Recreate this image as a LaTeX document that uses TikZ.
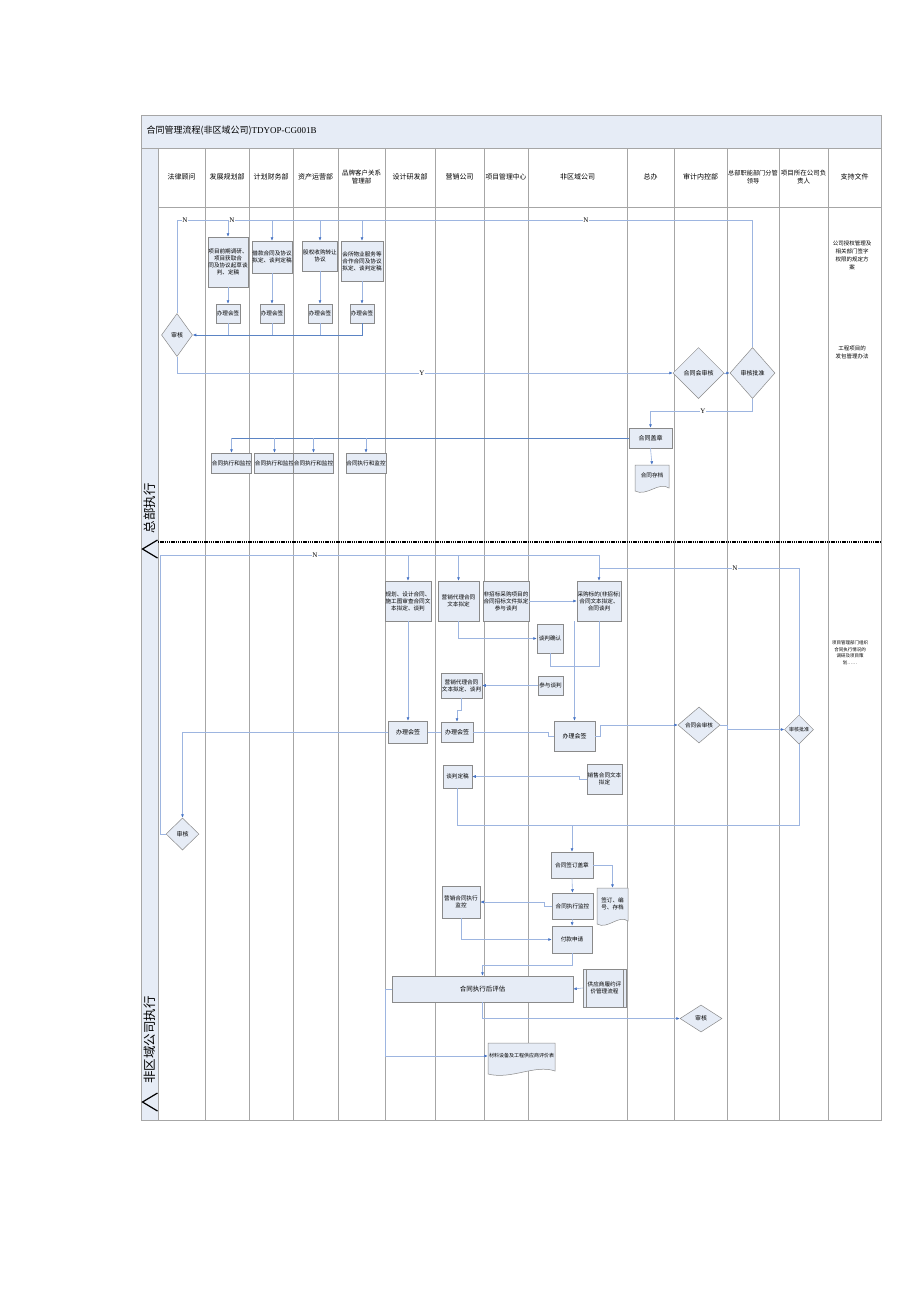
\documentclass[tikz,border=0pt]{standalone}
\usepackage{fontspec}
\setmainfont{Noto Sans CJK SC}
\newfontfamily\latfont{Liberation Serif}
\usetikzlibrary{shapes.geometric,arrows.meta}
\definecolor{boxfill}{HTML}{E6ECF6}
\definecolor{boxline}{HTML}{8A8A8A}
\definecolor{connc}{HTML}{9DB5E0}
\definecolor{conndark}{HTML}{5B84C4}
\definecolor{tipc}{HTML}{4472C4}
\definecolor{lanec}{HTML}{A6A6A6}
\definecolor{barc}{HTML}{E6ECF6}
\newcommand\docshape[6]{%
 \filldraw[draw=boxline, fill=boxfill, line width=0.5pt] (#2,#3) -- (#4,#3) -- (#4,{#5-4}) .. controls ({#4-0.3*(#4-#2)},{#5-11}) and ({#2+0.35*(#4-#2)},{#5+5}) .. (#2,{#5-1}) -- cycle;
 \node[inner sep=0pt, minimum width={(#4-#2)*1pt}, minimum height={(#5-#3-6)*1pt}, font=\fontsize{5.6}{7}\selectfont, align=center] (#1) at ({(#2+#4)/2},{(#3+#5-6)/2}) {#6};}
\begin{document}
\begin{tikzpicture}[x=1pt,y=-1pt,
 box/.style={draw=boxline, fill=boxfill, line width=0.5pt, inner sep=0.3pt, align=center, font=\fontsize{5.6}{7}\selectfont},
 dia/.style={diamond, draw=boxline, fill=boxfill, line width=0.5pt, inner sep=0pt, align=center, font=\fontsize{6}{7}\selectfont},
 cn/.style={draw=connc, line width=0.6pt},
 ar/.style={cn, -{Latex[length=3.5pt,width=3pt,color=tipc]}},
 lbl/.style={font=\latfont\fontsize{7}{7}\selectfont, fill=white, inner sep=0.4pt},
 hdr/.style={font=\fontsize{7}{8.5}\selectfont, align=center},
 suptxt/.style={align=center}]
\useasboundingbox (0,0) rectangle (920,1302);
\fill[white] (0,0) rectangle (920,1302);
% frame
\fill[barc] (141,148) rectangle (158,1120);
\filldraw[draw=lanec, fill=barc, line width=0.6pt] (141,115) rectangle (881,148);
\node[anchor=west, font=\fontsize{9}{9}\selectfont] (title) at (143,131) {合同管理流程(非区域公司){\latfont TDYOP-CG001B}};
\draw[lanec, line width=0.6pt] (141,148) rectangle (881,1120);
\draw[lanec, line width=0.6pt] (158,207) -- (881,207);
\foreach \x in {158,205,249,293,338,385,435,484,528,627,674,727,779,828}
  \draw[lanec, line width=0.6pt] (\x,148) -- (\x,1120);
% headers
\node[hdr] (h1) at (181.5,177) {法律顾问};
\node[hdr] (h2) at (227,177) {发展规划部};
\node[hdr] (h3) at (271,177) {计划财务部};
\node[hdr] (h4) at (315.5,177) {资产运营部};
\node[hdr, font=\fontsize{6.5}{8.5}\selectfont] (h5) at (361.5,177) {品牌客户关系\\管理部};
\node[hdr] (h6) at (410,177) {设计研发部};
\node[hdr] (h7) at (459.5,177) {营销公司};
\node[hdr, font=\fontsize{6.8}{8.5}\selectfont] (h8) at (506,177) {项目管理中心};
\node[hdr] (h9) at (577.5,177) {非区域公司};
\node[hdr] (h10) at (650.5,177) {总办};
\node[hdr] (h11) at (700.5,177) {审计内控部};
\node[hdr, font=\fontsize{6.2}{8.5}\selectfont] (h12) at (753,177) {总部职能部门分管\\领导};
\node[hdr, font=\fontsize{6.5}{8.5}\selectfont] (h13) at (803.5,177) {项目所在公司负\\责人};
\node[hdr] (h14) at (854.5,177) {支持文件};
% side labels
\node[rotate=90, font=\fontsize{12.5}{12.5}\selectfont] (sideA) at (149.5,508) {总部执行};
\node[rotate=90, font=\fontsize{12.5}{12.5}\selectfont] (sideB) at (149.5,1040) {非区域公司执行};
\draw[line width=1.2pt] (157.5,540) -- (142.5,549) -- (157.5,558);
\draw[line width=1.2pt] (157.5,1093) -- (142.5,1102) -- (157.5,1111);
\draw[line width=2.3pt, dash pattern=on 1.3pt off 0.9pt] (158,542) -- (881,542);
% support texts
\node[suptxt, font=\fontsize{5.5}{8}\selectfont] (sup1) at (852,255) {公司授权管理及\\相关部门签字\\权限的规定方\\案};
\node[suptxt, font=\fontsize{5.5}{8}\selectfont] (sup2) at (852,352) {工程项目的\\发包管理办法};
\node[suptxt, font=\fontsize{4.5}{6.5}\selectfont] (sup3) at (850,653) {项目管理部门组织\\合同执行情况的\\调研及项目策\\划……};
% ===== top section nodes
\node[box, minimum width=40pt, minimum height=50pt] (b1) at (228,262) {项目前期调研、\\项目获取合\\同及协议起草谈\\判、定稿};
\node[box, minimum width=39pt, minimum height=32pt] (b2) at (272,257) {借款合同及协议\\拟定、谈判定稿};
\node[box, minimum width=35pt, minimum height=30pt] (b3) at (320,256) {股权收购转让\\协议};
\node[box, minimum width=42pt, minimum height=40pt] (b4) at (362,261) {会所物业服务等\\合作合同及协议\\拟定、谈判定稿};
\node[box, minimum width=24pt, minimum height=19pt] (s1) at (228,313.5) {办理会签};
\node[box, minimum width=24pt, minimum height=19pt] (s2) at (272,313.5) {办理会签};
\node[box, minimum width=24pt, minimum height=19pt] (s3) at (320,313.5) {办理会签};
\node[box, minimum width=24pt, minimum height=19pt] (s4) at (362,313.5) {办理会签};
\node[dia, minimum width=31pt, minimum height=43pt] (d1) at (177,335) {审核};
\node[dia, minimum width=51pt, minimum height=51pt] (hs) at (698.5,373) {合同会审核};
\node[dia, minimum width=45pt, minimum height=51pt] (ap) at (752.5,373) {审核批准};
\node[box, minimum width=43pt, minimum height=20pt, font=\fontsize{6}{7}\selectfont] (gz) at (650.5,438) {合同盖章};
\docshape{cd}{635}{465}{669}{492}{合同存档}
\node[box, minimum width=39pt, minimum height=20pt] (e1) at (231.5,463) {合同执行和监控};
\node[box, minimum width=39pt, minimum height=20pt] (e2) at (274.5,463) {合同执行和监控};
\node[box, minimum width=39pt, minimum height=20pt] (e3) at (313.5,463) {合同执行和监控};
\node[box, minimum width=40pt, minimum height=20pt] (e4) at (366,463) {合同执行和监控};
% ===== top connectors
\coordinate (ntop) at (0,220);
\coordinate (jy) at (0,335);
\draw[cn] (d1.north) |- (ap.north |- ntop) -- (ap.north);
\foreach \n in {b1,b2,b3,b4} \draw[ar] (\n.north |- ntop) -- (\n.north);
\node[lbl] (nA) at (185,220) {N};
\node[lbl] (nB) at (232,220) {N};
\node[lbl] (nC) at (586,220) {N};
\foreach \a/\b in {b1/s1,b2/s2,b3/s3,b4/s4} \draw[ar] (\a.south) -- (\b.north);
\foreach \n in {s1,s2,s3} \draw[cn] (\n.south) -- (\n.south |- jy);
\draw[ar, draw=conndark] (s4.south) |- (d1.east);
\draw[ar] (d1.south) |- (hs.west);
\node[lbl] (yA) at (422,373) {Y};
\draw[ar] (hs.east) -- (ap.west);
\draw[ar] (ap.south) -- ++(0,13) -| (gz.north);
\node[lbl] (yB) at (703,411) {Y};
\draw[ar] (gz.south) -- (cd.north);
\draw[cn, draw=conndark] (gz.west) -- (e1.north |- gz.west);
\foreach \n in {e1,e2,e3,e4} \draw[ar] (\n.north |- gz.west) -- (\n.north);
% ===== lower section nodes
\node[box, minimum width=46pt, minimum height=40pt] (L1) at (408,601) {规划、设计合同、\\施工图审查合同文\\本拟定、谈判};
\node[box, minimum width=41pt, minimum height=40pt] (L2) at (458.5,601) {营销代理合同\\文本拟定};
\node[box, minimum width=46pt, minimum height=40pt] (L3) at (506,601) {非招标采购项目的\\合同招标文件拟定\\参与谈判};
\node[box, minimum width=44pt, minimum height=40pt] (L4) at (599,601) {采购标的(非招标)\\合同文本拟定、\\合同谈判};
\node[box, minimum width=26pt, minimum height=29pt] (Q1) at (550,638.5) {谈判确认};
\node[box, minimum width=41pt, minimum height=25pt] (M1) at (461.5,685.5) {营销代理合同\\文本拟定、谈判};
\node[box, minimum width=25pt, minimum height=19pt] (P1) at (550.5,685.5) {参与谈判};
\node[box, minimum width=39pt, minimum height=22pt, font=\fontsize{6}{7}\selectfont] (S1) at (408,732) {办理会签};
\node[box, minimum width=32pt, minimum height=20pt, font=\fontsize{6}{7}\selectfont] (S2) at (457,732) {办理会签};
\node[box, minimum width=41pt, minimum height=30pt, font=\fontsize{6}{7}\selectfont] (S3) at (574.5,736) {办理会签};
\node[dia, minimum width=42pt, minimum height=36pt, font=\fontsize{5.6}{7}\selectfont] (HS2) at (699,725) {合同会审核};
\node[dia, minimum width=29pt, minimum height=29pt, font=\fontsize{5}{6}\selectfont] (AP2) at (799,729.5) {审核批准};
\node[box, minimum width=29pt, minimum height=23pt] (T1) at (457.5,776.5) {谈判定稿};
\node[box, minimum width=35pt, minimum height=30pt] (X1) at (604.5,779) {销售合同文本\\拟定};
\node[dia, minimum width=33pt, minimum height=32pt] (D2) at (182.5,834) {审核};
\node[box, minimum width=42pt, minimum height=26pt] (G2) at (572,865) {合同签订盖章};
\docshape{ARC}{597}{888}{628}{925}{签订、编\\号、存档}
\node[box, minimum width=41pt, minimum height=26pt] (EX) at (572.5,906) {合同执行监控};
\node[box, minimum width=38pt, minimum height=32pt] (MX) at (461,902) {营销合同执行\\监控};
\node[box, minimum width=40pt, minimum height=27pt] (PAY) at (572,939.5) {付款申请};
\node[box, minimum width=181pt, minimum height=26pt, font=\fontsize{6.5}{7.5}\selectfont] (EV) at (482.5,989) {合同执行后评估};
\node[box, minimum width=43pt, minimum height=38pt] (SUP) at (604.5,988) {供应商履约评\\价管理流程};
\draw[boxline, line width=0.5pt] ([xshift=3pt]SUP.north west) -- ([xshift=3pt]SUP.south west);
\draw[boxline, line width=0.5pt] ([xshift=-3pt]SUP.north east) -- ([xshift=-3pt]SUP.south east);
\node[dia, minimum width=42pt, minimum height=27pt] (D3) at (701,1018.5) {审核};
\docshape{DOC2}{488}{1043}{555}{1075}{\fontsize{5}{6}\selectfont 材料设备及工程供应商评价表}
% ===== lower connectors
\coordinate (nl) at (0,555);
\coordinate (nr) at (0,568);
\coordinate (c160) at (160,0);
\draw[ar] (D2.west) -| (c160 |- nl) -| (L4.north);
\draw[ar] (L1.north |- nl) -- (L1.north);
\draw[ar] (L2.north |- nl) -- (L2.north);
\draw[cn] (AP2.north) |- (L4.north |- nr);
\node[lbl] (nD) at (315,555) {N};
\node[lbl] (nE) at (735,568) {N};
\draw[ar] (L3.east) -- (L4.west);
\draw[ar] (L2.south) |- (Q1.west);
\draw[cn] (Q1.south) -- ++(0,13) -| (L4.south);
\draw[ar] (S3.north |- L4.south) -- (S3.north);
\draw[ar] (P1.west) -- (M1.east);
\draw[ar] (M1.south) -- ++(0,12) -| (S2.north);
\draw[ar] (L1.south) -- (S1.north);
\draw[ar] (S1.west) -| (D2.north);
\draw[cn] (S1.east) -- (S2.west);
\draw[cn] (S2.east) -- ++(75,0) |- (S3.west);
\draw[ar] (S3.east) -- ++(5,0) |- (HS2.west);
\draw[ar] (HS2.east) -- ++(7,0) |- (AP2.west);
\draw[ar] (X1.west) -- ++(-7,0) |- (T1.east);
\coordinate (j825) at (572,825);
\draw[cn] (T1.south) |- (AP2.south |- j825) -- (AP2.south);
\draw[ar] (j825) -- (G2.north);
\draw[ar] (G2.east) -| (ARC.north);
\draw[ar] (G2.south) -- (EX.north);
\draw[ar] (EX.west) -- ++(-7,0) |- (MX.east);
\draw[ar] (EX.south) -- (PAY.north);
\draw[ar] (MX.south) |- (PAY.west);
\draw[ar] (PAY.south) -- ++(0,12) -| (EV.north);
\draw[ar] (SUP.west) -- (EV.east);
\draw[ar] (EV.west) -- ++(-6,0) |- (DOC2.west);
\draw[ar] (EV.south) |- (D3.west);
\end{tikzpicture}
\end{document}
